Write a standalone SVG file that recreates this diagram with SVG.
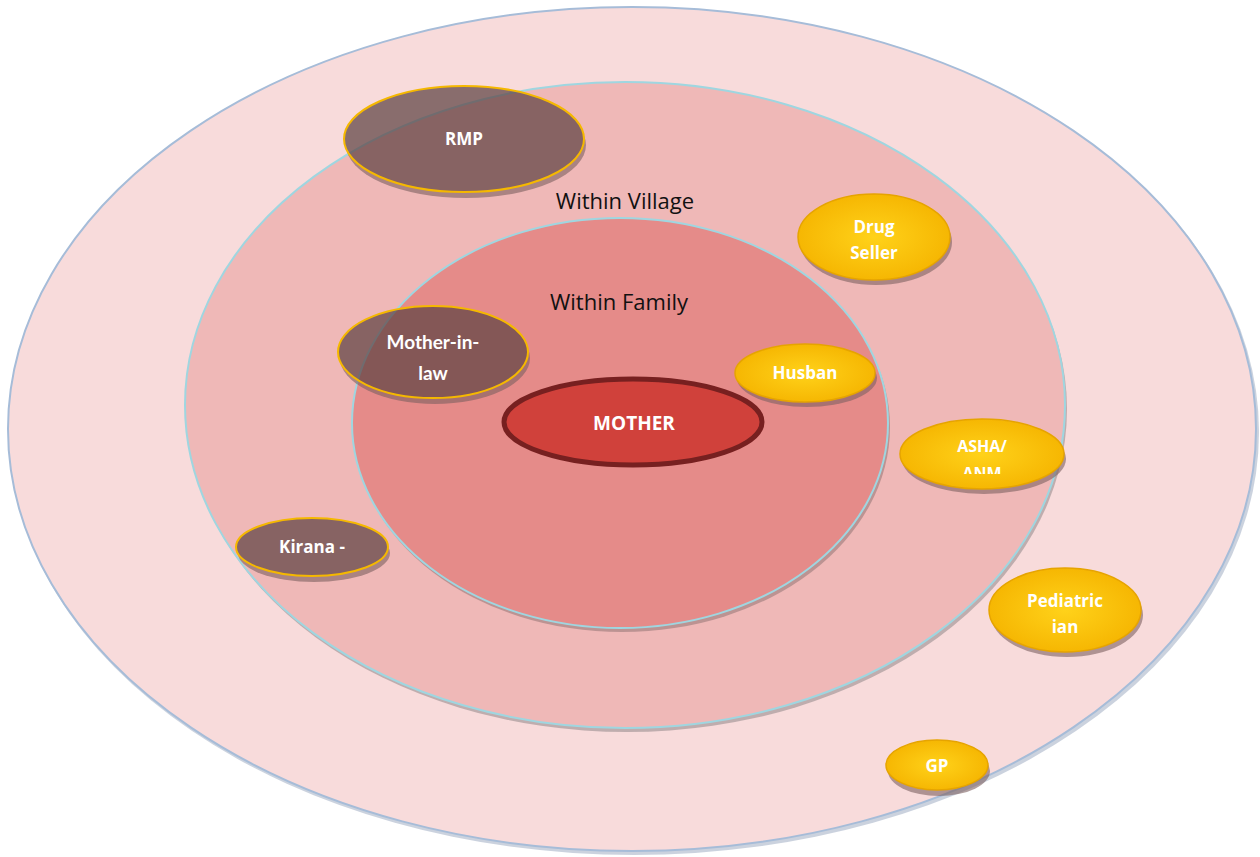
<svg xmlns="http://www.w3.org/2000/svg" width="1260" height="857" viewBox="0 0 1260 857">
<defs>
<radialGradient id="gold" cx="50%" cy="50%" r="55%">
<stop offset="0" stop-color="#ffd21a"/>
<stop offset="1" stop-color="#f5b400"/>
</radialGradient>
<clipPath id="ashaClip"><rect x="890" y="410" width="190" height="64"/></clipPath>
<mask id="mRmp"><rect width="1260" height="857" fill="#fff"/><ellipse cx="464" cy="139" rx="120" ry="53" fill="#000"/></mask>
<mask id="mMil"><rect width="1260" height="857" fill="#fff"/><ellipse cx="433" cy="352" rx="95" ry="46" fill="#000"/></mask>
<mask id="mKir"><rect width="1260" height="857" fill="#fff"/><ellipse cx="312" cy="547" rx="76" ry="29" fill="#000"/></mask>
</defs>
<style>
.ring{stroke-width:2}
.shadow{fill:#7d6060;opacity:0.6}
.brown{fill:#5e4242;fill-opacity:0.72;stroke:#f5b800;stroke-width:2}
.gold{fill:url(#gold);stroke:#e6a400;stroke-width:1.5}
.lbl{font-family:"Open Sans","Liberation Sans",sans-serif;font-weight:bold;fill:#ffffff;text-anchor:middle}
.ring-lbl{font-family:"Open Sans","Liberation Sans",sans-serif;fill:#111111;text-anchor:middle;font-size:22px}
</style>
<g id="outer">
<ellipse cx="634" cy="432" rx="625" ry="423" fill="#a8b4c8" opacity="0.6"/>
<ellipse class="ring" cx="632" cy="429" rx="624" ry="422" fill="#f8dbdb" stroke="#a6bcd8"/>
</g>
<g id="village">
<ellipse cx="627" cy="409" rx="440" ry="323" fill="#9a8e90" opacity="0.6"/>
<ellipse class="ring" cx="625" cy="405" rx="440" ry="323" fill="#efb8b7" stroke="#9fd6e0"/>
<text class="ring-lbl" x="625" y="209">Within Village</text>
</g>
<g id="family">
<ellipse cx="622" cy="427" rx="268" ry="205" fill="#9a7a7a" opacity="0.6"/>
<ellipse class="ring" cx="620" cy="423" rx="268" ry="205" fill="#e58b89" stroke="#9fd6e0"/>
<text class="ring-lbl" x="619" y="310">Within Family</text>
</g>
<g id="mother">
<ellipse cx="633" cy="422" rx="129" ry="43" fill="#d0413b" stroke="#772020" stroke-width="5"/>
<text class="lbl" x="634" y="430" font-size="19">MOTHER</text>
</g>
<g id="rmp">
<ellipse class="shadow" cx="466" cy="145" rx="120" ry="53" mask="url(#mRmp)"/>
<ellipse class="brown" cx="464" cy="139" rx="120" ry="53"/>
<text class="lbl" x="464" y="145" font-size="17">RMP</text>
</g>
<g id="mother-in-law">
<ellipse class="shadow" cx="435" cy="358" rx="95" ry="46" mask="url(#mMil)"/>
<ellipse class="brown" cx="433" cy="352" rx="95" ry="46"/>
<text class="lbl" x="433" y="349" font-size="19" style="font-family:Lato,'Open Sans',sans-serif">Mother-in-</text>
<text class="lbl" x="433" y="380" font-size="19" style="font-family:Lato,'Open Sans',sans-serif">law</text>
</g>
<g id="kirana">
<ellipse class="shadow" cx="314" cy="553" rx="76" ry="29" mask="url(#mKir)"/>
<ellipse class="brown" cx="312" cy="547" rx="76" ry="29"/>
<text class="lbl" x="312" y="553" font-size="17">Kirana -</text>
</g>
<g id="drug-seller">
<ellipse class="shadow" cx="876" cy="242" rx="76" ry="43"/>
<ellipse class="gold" cx="874" cy="237" rx="76" ry="43"/>
<text class="lbl" x="874" y="233" font-size="17">Drug</text>
<text class="lbl" x="874" y="259" font-size="17">Seller</text>
</g>
<g id="husband">
<ellipse class="shadow" cx="807" cy="378" rx="70" ry="29"/>
<ellipse class="gold" cx="805" cy="373" rx="70" ry="29"/>
<text class="lbl" x="805" y="379" font-size="17">Husban</text>
</g>
<g id="asha">
<ellipse class="shadow" cx="984" cy="459" rx="82" ry="35"/>
<ellipse class="gold" cx="982" cy="454" rx="82" ry="35"/>
<text class="lbl" x="982" y="452" font-size="16">ASHA/</text>
<text class="lbl" x="982" y="479" font-size="16" clip-path="url(#ashaClip)">ANM</text>
</g>
<g id="pediatrician">
<ellipse class="shadow" cx="1067" cy="615" rx="76" ry="42"/>
<ellipse class="gold" cx="1065" cy="610" rx="76" ry="42"/>
<text class="lbl" x="1065" y="607" font-size="17">Pediatric</text>
<text class="lbl" x="1065" y="633" font-size="17">ian</text>
</g>
<g id="gp">
<ellipse class="shadow" cx="939" cy="771" rx="51" ry="25"/>
<ellipse class="gold" cx="937" cy="765" rx="51" ry="25"/>
<text class="lbl" x="937" y="772" font-size="17">GP</text>
</g>
<g id="connectors"/>
</svg>
